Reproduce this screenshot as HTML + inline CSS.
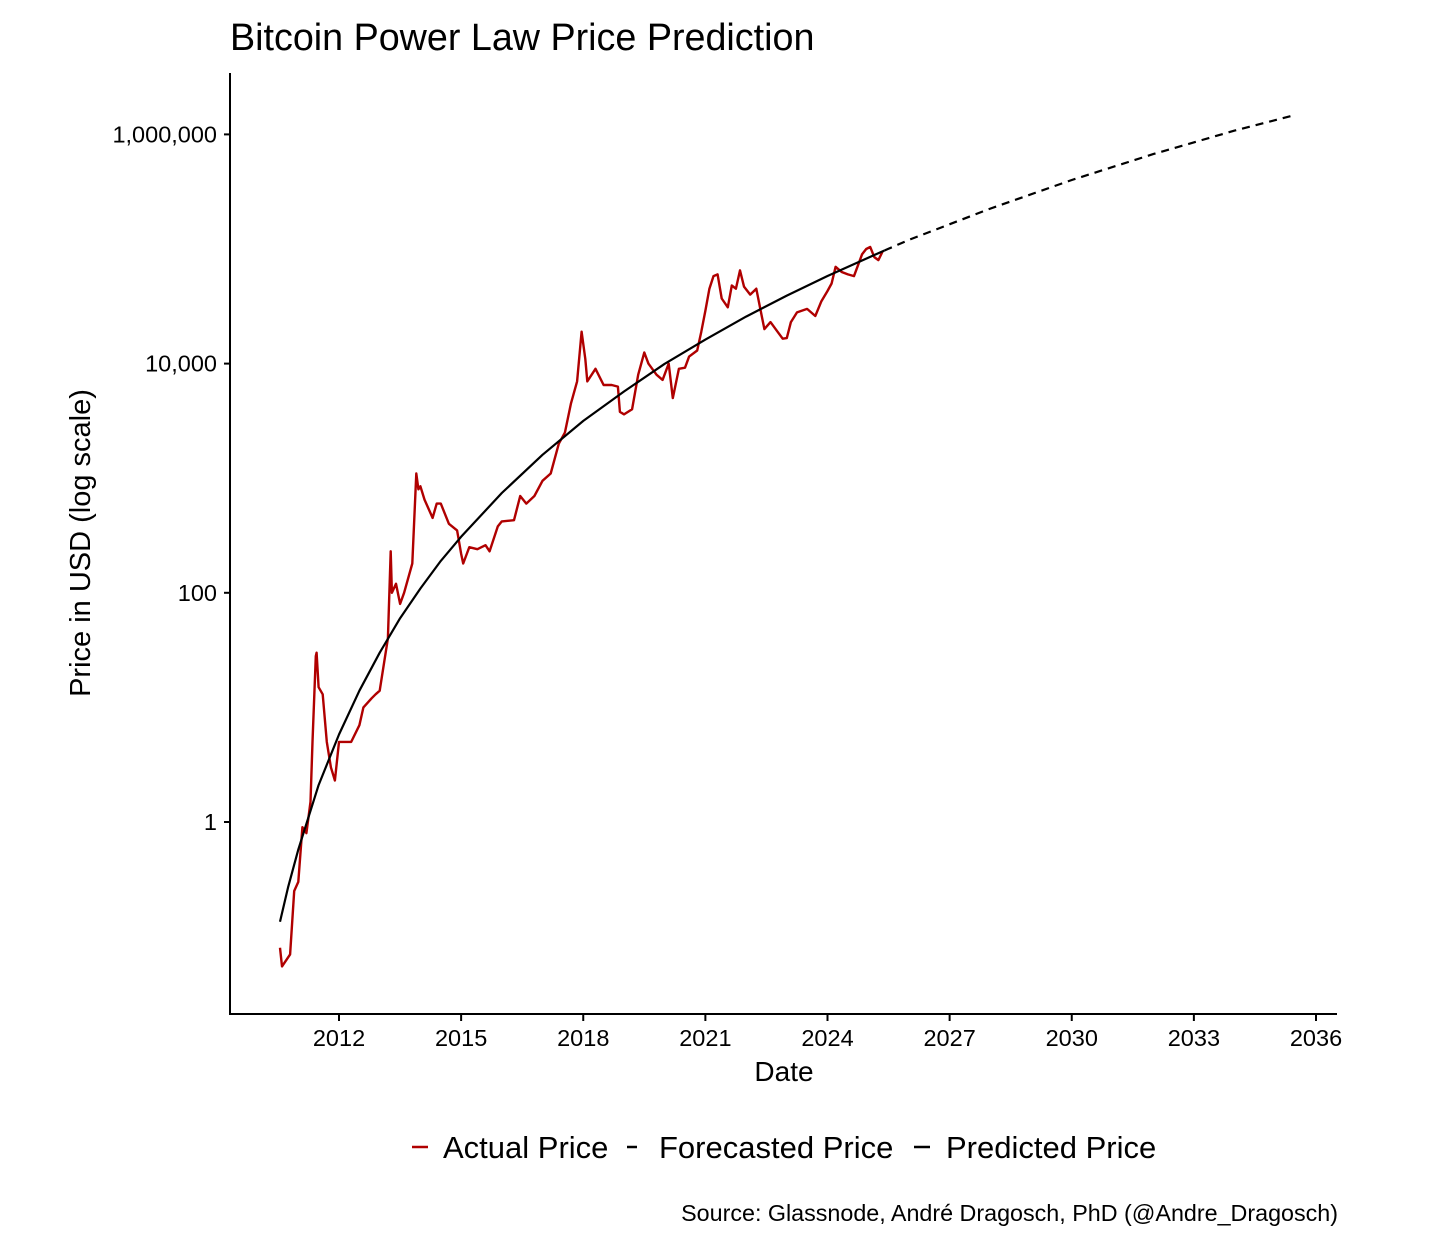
<!DOCTYPE html>
<html><head><meta charset="utf-8"><style>
html,body{margin:0;padding:0;background:#fff;}
svg{display:block;font-family:"Liberation Sans",Arial,sans-serif;}
</style></head><body>
<svg id="chart" width="1456" height="1246" viewBox="0 0 1456 1246">
<text x="230" y="50" font-size="37.7" fill="#000">Bitcoin Power Law Price Prediction</text>
<g id="yaxis"></g>
<g id="xaxis"></g>
<g id="plot"></g>
<text x="784" y="1081" font-size="28" text-anchor="middle">Date</text>
<text transform="translate(90,543) rotate(-90)" font-size="29" text-anchor="middle">Price in USD (log scale)</text>
<g>
 <g><line x1="412" y1="1147" x2="428" y2="1147" stroke="#b00000" stroke-width="2.5"/><text x="443" y="1158" font-size="31">Actual Price</text></g>
 <g><line x1="627" y1="1147" x2="637" y2="1147" stroke="#000" stroke-width="2.5"/><text x="659" y="1158" font-size="31">Forecasted Price</text></g>
 <g><line x1="914" y1="1147" x2="930" y2="1147" stroke="#000" stroke-width="2.5"/><text x="946" y="1158" font-size="31">Predicted Price</text></g>
</g>
<text x="1338" y="1221" font-size="23.3" text-anchor="end">Source: Glassnode, André Dragosch, PhD (@Andre_Dragosch)</text>
</svg>
<script>
const yTickValues = [1, 100, 10000, 1000000];
const yTickLabels = ["1", "100", "10,000", "1,000,000"];
const xTickYears = [2012, 2015, 2018, 2021, 2024, 2027, 2030, 2033, 2036];
const actualYears = [2010.55,2010.6,2010.8,2010.9,2011.0,2011.1,2011.2,2011.3,2011.35,2011.43,2011.45,2011.5,2011.6,2011.7,2011.8,2011.9,2012.0,2012.1,2012.3,2012.5,2012.6,2012.8,2012.9,2013.0,2013.2,2013.27,2013.3,2013.4,2013.5,2013.6,2013.8,2013.9,2013.95,2014.0,2014.1,2014.3,2014.4,2014.5,2014.7,2014.9,2015.0,2015.05,2015.2,2015.4,2015.6,2015.7,2015.9,2016.0,2016.3,2016.45,2016.6,2016.8,2017.0,2017.2,2017.4,2017.55,2017.7,2017.85,2017.96,2018.05,2018.1,2018.3,2018.5,2018.7,2018.85,2018.9,2019.0,2019.2,2019.35,2019.5,2019.6,2019.8,2019.95,2020.1,2020.2,2020.35,2020.5,2020.6,2020.8,2020.9,2021.0,2021.1,2021.2,2021.3,2021.4,2021.55,2021.65,2021.75,2021.85,2021.95,2022.1,2022.25,2022.35,2022.45,2022.6,2022.75,2022.9,2023.0,2023.1,2023.25,2023.5,2023.7,2023.85,2024.0,2024.1,2024.2,2024.35,2024.5,2024.65,2024.85,2024.95,2025.05,2025.15,2025.25,2025.35];
const actualPrices = [0.08,0.055,0.07,0.25,0.3,0.9,0.8,1.5,5,28,30,15,13,5,3,2.3,5,5,5,7,10,12,13,14,40,230,100,120,80,100,180,1100,800,850,650,450,600,600,400,350,220,180,250,240,260,230,380,420,430,700,600,700,950,1100,2000,2500,4500,7000,19000,11000,7000,9000,6500,6500,6300,3800,3600,4000,8000,12500,10000,8000,7200,10000,5000,9000,9200,11500,13000,19000,29000,45000,58000,60000,37000,31000,48000,45000,65000,47000,40000,45000,30000,20000,23000,19500,16500,16700,23000,28000,30000,26000,35000,43000,50000,70000,63000,60000,58000,90000,100000,104000,85000,80000,95000];
const predYears = [2010.55,2010.75,2011,2011.5,2012,2012.5,2013,2013.5,2014,2014.5,2015,2016,2017,2018,2019,2020,2021,2022,2023,2024,2025,2025.4];
const predPrices = [0.135,0.27,0.574,2.1,5.8,14,30,60,109,190,308,743,1600,3160,5710,9950,16200,25700,39200,58100,84000,97000];
const foreYears = [2025.4,2026,2028,2030,2032,2034,2035.4];
const forePrices = [97000,120000,225000,400000,673000,1080000,1450000];

const NS = "http://www.w3.org/2000/svg";
const X0 = 230, X1 = 1337, Y0 = 73, YB = 1014;
function xs(yr){ return 339 + (yr - 2012) * (1316 - 339) / 24; }
function ys(p){ return 822 - Math.log10(p) * 114.6; }
function mk(tag, attrs, parent){ const e = document.createElementNS(NS, tag); for (const k in attrs) e.setAttribute(k, attrs[k]); parent.appendChild(e); return e; }

const yax = document.getElementById('yaxis');
const xax = document.getElementById('xaxis');
const plot = document.getElementById('plot');
const yl = mk('line', {x1:X0, y1:Y0, x2:X0, y2:YB+1, stroke:'#000', 'stroke-width':2}, yax);


const xl = mk('line', {x1:X0-1, y1:YB, x2:X1, y2:YB, stroke:'#000', 'stroke-width':2}, xax);



yTickValues.forEach((v, i) => {
  const y = ys(v);
  const t = mk('line', {x1:X0-6, y1:y, x2:X0, y2:y, stroke:'#000', 'stroke-width':2}, yax);
  
  
  const l = mk('text', {x:X0-13, y:y+8, 'font-size':23.5, 'text-anchor':'end'}, yax);
  l.textContent = yTickLabels[i];
  
  
});
xTickYears.forEach(yr => {
  const x = xs(yr);
  const t = mk('line', {x1:x, y1:YB, x2:x, y2:YB+7, stroke:'#000', 'stroke-width':2}, xax);
  
  
  const l = mk('text', {x:x, y:1046, 'font-size':23.5, 'text-anchor':'middle'}, xax);
  l.textContent = String(yr);
  
  
});
function pts(xa, ya){ return xa.map((x, i) => xs(x).toFixed(1) + ',' + ys(ya[i]).toFixed(1)).join(' '); }
const a = mk('polyline', {points:pts(actualYears, actualPrices), fill:'none', stroke:'#b00000', 'stroke-width':2.4, 'stroke-linejoin':'round'}, plot);


const p = mk('polyline', {points:pts(predYears, predPrices), fill:'none', stroke:'#000', 'stroke-width':2.2, 'stroke-linejoin':'round'}, plot);


const f = mk('polyline', {points:pts(foreYears, forePrices), fill:'none', stroke:'#000', 'stroke-width':2.2, 'stroke-dasharray':'8,6'}, plot);


</script>
</body></html>
